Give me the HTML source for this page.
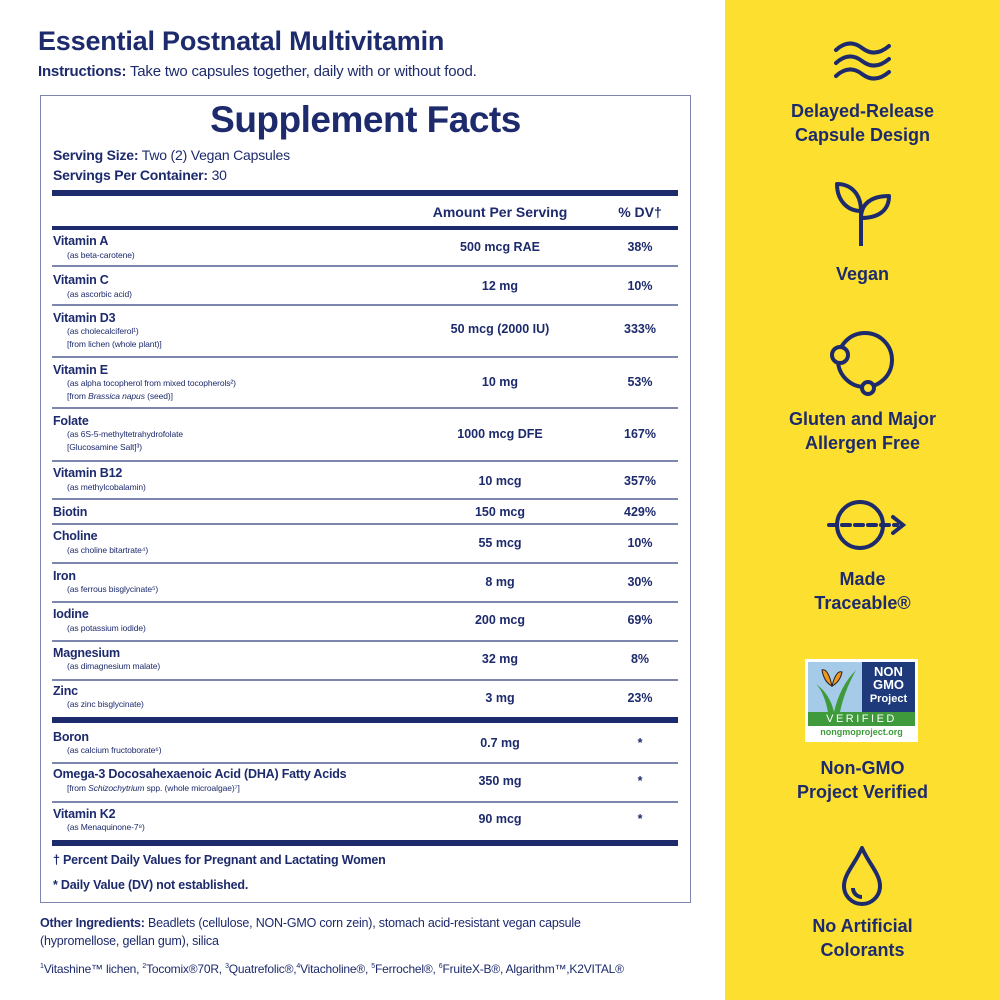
<!DOCTYPE html>
<html><head><meta charset="utf-8"><style>
*{margin:0;padding:0;box-sizing:border-box}
body{width:1000px;height:1000px;background:#fff;position:relative;overflow:hidden;font-family:"Liberation Sans",sans-serif;color:#1d2a6c}
.a{position:absolute;white-space:nowrap}
.n{font-size:12.5px;font-weight:bold;left:53px;letter-spacing:-0.2px}
.s{font-size:8.5px;left:67px;letter-spacing:-0.1px}
.v{font-size:12.5px;font-weight:bold;width:200px;left:400px;text-align:center}
.d{font-size:12.5px;font-weight:bold;width:80px;left:600px;text-align:center}
.ln{position:absolute;left:52px;width:626px;height:1.5px;background:#7d86ad}
.tk{position:absolute;left:52px;width:626px;background:#1d2a6c}
#panel{position:absolute;left:725px;top:0;width:275px;height:1000px;background:#fde02f}
.lab{position:absolute;left:0;width:275px;text-align:center;font-size:18px;font-weight:bold;line-height:24px}
.ic{position:absolute;left:102px;width:70px;height:70px}
</style></head><body>
<div class="a" style="left:38px;top:26px;font-size:27px;font-weight:bold;letter-spacing:-0.2px">Essential Postnatal Multivitamin</div>
<div class="a" style="left:38px;top:63px;font-size:15px;letter-spacing:-0.2px"><b>Instructions:</b> Take two capsules together, daily with or without food.</div>
<div style="position:absolute;left:40px;top:95px;width:651px;height:808px;border:1.5px solid #7d86ad"></div>
<div class="a" style="left:40px;width:651px;text-align:center;top:99px;font-size:37px;font-weight:bold;letter-spacing:-0.5px">Supplement Facts</div>
<div class="a" style="left:53px;top:147px;font-size:14px;letter-spacing:-0.2px"><b>Serving Size:</b> Two (2) Vegan Capsules</div>
<div class="a" style="left:53px;top:167px;font-size:14px;letter-spacing:-0.2px"><b>Servings Per Container:</b> 30</div>
<div class="tk" style="top:190px;height:6px"></div>
<div class="a" style="left:400px;width:200px;text-align:center;top:204px;font-size:14px;font-weight:bold">Amount Per Serving</div>
<div class="a" style="left:600px;width:80px;text-align:center;top:204px;font-size:14px;font-weight:bold">% DV†</div>
<div class="tk" style="top:226px;height:4px"></div>

<div>
<div class="a n" style="top:234px">Vitamin A</div><div class="a s" style="top:250px">(as beta-carotene)</div>
<div class="a v" style="top:240px">500 mcg RAE</div><div class="a d" style="top:240px">38%</div></div>
<div class="ln" style="top:265px"></div>
<div>
<div class="a n" style="top:273px">Vitamin C</div><div class="a s" style="top:289px">(as ascorbic acid)</div>
<div class="a v" style="top:279px">12 mg</div><div class="a d" style="top:279px">10%</div></div>
<div class="ln" style="top:304px"></div>
<div>
<div class="a n" style="top:311px">Vitamin D3</div><div class="a s" style="top:326px">(as cholecalciferol¹)</div><div class="a s" style="top:339px">[from lichen (whole plant)]</div>
<div class="a v" style="top:322px">50 mcg (2000 IU)</div><div class="a d" style="top:322px">333%</div></div>
<div class="ln" style="top:356px"></div>
<div>
<div class="a n" style="top:363px">Vitamin E</div><div class="a s" style="top:378px">(as alpha tocopherol from mixed tocopherols²)</div><div class="a s" style="top:391px">[from <i>Brassica napus</i> (seed)]</div>
<div class="a v" style="top:375px">10 mg</div><div class="a d" style="top:375px">53%</div></div>
<div class="ln" style="top:407px"></div>
<div>
<div class="a n" style="top:414px">Folate</div><div class="a s" style="top:429px">(as 6S-5-methyltetrahydrofolate</div><div class="a s" style="top:442px">[Glucosamine Salt]³)</div>
<div class="a v" style="top:427px">1000 mcg DFE</div><div class="a d" style="top:427px">167%</div></div>
<div class="ln" style="top:460px"></div>
<div>
<div class="a n" style="top:466px">Vitamin B12</div><div class="a s" style="top:482px">(as methylcobalamin)</div>
<div class="a v" style="top:474px">10 mcg</div><div class="a d" style="top:474px">357%</div></div>
<div class="ln" style="top:498px"></div>
<div>
<div class="a n" style="top:505px">Biotin</div>
<div class="a v" style="top:505px">150 mcg</div><div class="a d" style="top:505px">429%</div></div>
<div class="ln" style="top:523px"></div>
<div>
<div class="a n" style="top:529px">Choline</div><div class="a s" style="top:545px">(as choline bitartrate⁴)</div>
<div class="a v" style="top:536px">55 mcg</div><div class="a d" style="top:536px">10%</div></div>
<div class="ln" style="top:562px"></div>
<div>
<div class="a n" style="top:569px">Iron</div><div class="a s" style="top:584px">(as ferrous bisglycinate⁵)</div>
<div class="a v" style="top:575px">8 mg</div><div class="a d" style="top:575px">30%</div></div>
<div class="ln" style="top:601px"></div>
<div>
<div class="a n" style="top:607px">Iodine</div><div class="a s" style="top:623px">(as potassium iodide)</div>
<div class="a v" style="top:613px">200 mcg</div><div class="a d" style="top:613px">69%</div></div>
<div class="ln" style="top:640px"></div>
<div>
<div class="a n" style="top:646px">Magnesium</div><div class="a s" style="top:661px">(as dimagnesium malate)</div>
<div class="a v" style="top:652px">32 mg</div><div class="a d" style="top:652px">8%</div></div>
<div class="ln" style="top:679px"></div>
<div>
<div class="a n" style="top:684px">Zinc</div><div class="a s" style="top:699px">(as zinc bisglycinate)</div>
<div class="a v" style="top:691px">3 mg</div><div class="a d" style="top:691px">23%</div></div>
<div class="tk" style="top:717px;height:6px"></div>
<div>
<div class="a n" style="top:730px">Boron</div><div class="a s" style="top:745px">(as calcium fructoborate⁶)</div>
<div class="a v" style="top:736px">0.7 mg</div><div class="a d" style="top:736px">*</div></div>
<div class="ln" style="top:762px"></div>
<div>
<div class="a n" style="top:767px">Omega-3 Docosahexaenoic Acid (DHA) Fatty Acids</div><div class="a s" style="top:783px">[from <i>Schizochytrium</i> spp. (whole microalgae)⁷]</div>
<div class="a v" style="top:774px">350 mg</div><div class="a d" style="top:774px">*</div></div>
<div class="ln" style="top:801px"></div>
<div>
<div class="a n" style="top:807px">Vitamin K2</div><div class="a s" style="top:822px">(as Menaquinone-7⁸)</div>
<div class="a v" style="top:812px">90 mcg</div><div class="a d" style="top:812px">*</div></div>
<div class="tk" style="top:840px;height:6px"></div>
<div class="a" style="left:53px;top:853px;font-size:12.5px;font-weight:bold;letter-spacing:-0.2px">† Percent Daily Values for Pregnant and Lactating Women</div>
<div class="a" style="left:53px;top:878px;font-size:12.5px;font-weight:bold;letter-spacing:-0.2px">* Daily Value (DV) not established.</div>
<div class="a" style="left:40px;top:914px;font-size:12.5px;line-height:18px;letter-spacing:-0.2px"><b>Other Ingredients:</b> Beadlets (cellulose, NON-GMO corn zein), stomach acid-resistant vegan capsule<br>(hypromellose, gellan gum), silica</div>
<div class="a" style="left:40px;top:962px;font-size:12px;letter-spacing:-0.2px"><sup style="font-size:7px">1</sup>Vitashine™ lichen, <sup style="font-size:7px">2</sup>Tocomix®70R, <sup style="font-size:7px">3</sup>Quatrefolic®,<sup style="font-size:7px">4</sup>Vitacholine®, <sup style="font-size:7px">5</sup>Ferrochel®, <sup style="font-size:7px">6</sup>FruiteX-B®, Algarithm™,K2VITAL®</div>

<div id="panel">
<svg class="ic" style="top:26px" viewBox="0 0 70 70" fill="none" stroke="#1d2a6c" stroke-width="4" stroke-linecap="round"><path d="M9 24 Q22 12 35 22 T62 20"/><path d="M9 37 Q22 25 35 35 T62 33"/><path d="M9 50 Q22 38 35 48 T62 46"/></svg>
<div class="lab" style="top:99px">Delayed-Release<br>Capsule Design</div>
<svg class="ic" style="top:178px" viewBox="0 0 70 70" fill="none" stroke="#1d2a6c" stroke-width="4" stroke-linejoin="round"><path d="M34 68 V33"/><path d="M34 33 C20 33 10 22 10 6 C24 6 34 16 34 33 Z"/><path d="M34 40 C34 26 44 18 62 18 C62 32 52 40 34 40 Z"/></svg>
<div class="lab" style="top:262px">Vegan</div>
<svg class="ic" style="top:328px" viewBox="0 0 70 70" fill="none" stroke="#1d2a6c" stroke-width="4"><circle cx="38" cy="32" r="27"/><circle cx="13" cy="27" r="8" fill="#fde02f"/><circle cx="41" cy="60" r="6" fill="#fde02f"/></svg>
<div class="lab" style="top:407px">Gluten and Major<br>Allergen Free</div>
<svg class="ic" style="top:490px;left:100px;width:86px" viewBox="0 0 86 70" fill="none" stroke="#1d2a6c" stroke-width="4" stroke-linecap="round"><circle cx="35" cy="35" r="23"/><path d="M4 35 H72" stroke-dasharray="8 5"/><path d="M68 27 L78 35 L68 43"/></svg>
<div class="lab" style="top:567px">Made<br>Traceable®</div>
<div style="position:absolute;left:80px;top:659px;width:113px;height:83px;background:#fff;padding:2px">
<div style="position:absolute;left:3px;top:3px;width:54px;height:50px;background:#a6cbe8"></div>
<svg style="position:absolute;left:3px;top:3px" width="54" height="50" viewBox="0 0 54 50"><path d="M20 50 Q16 30 8 22 Q22 32 26 50 Z M26 50 Q32 24 48 8 Q36 30 32 50Z" fill="#3e9a3a"/><path d="M14 8 Q20 6 24 24 Q16 20 14 8Z M24 24 Q28 8 34 10 Q32 20 24 24Z" fill="#f2961e" stroke="#222" stroke-width="1"/></svg>
<div style="position:absolute;left:57px;top:3px;width:53px;height:50px;background:#1e3a7b;color:#fff;text-align:center;font-weight:bold;font-size:13px;line-height:13px;padding-top:3px">NON<br>GMO<br><span style="font-size:11px">Project</span></div>
<div style="position:absolute;left:3px;top:53px;width:107px;height:14px;background:#3e9a3a;color:#fff;text-align:center;font-size:11px;line-height:14px;letter-spacing:2.5px">VERIFIED</div>
<div style="position:absolute;left:0;top:68px;width:113px;text-align:center;color:#3e9a3a;font-size:9px;font-weight:bold">nongmoproject.org</div>
</div>
<div class="lab" style="top:756px">Non-GMO<br>Project Verified</div>
<svg class="ic" style="top:842px" viewBox="0 0 70 70" fill="none" stroke="#1d2a6c" stroke-width="4" stroke-linejoin="round"><path d="M35 6 C28 22 17 32 17 44 A18 18 0 0 0 53 44 C53 32 42 22 35 6 Z"/><path d="M26 46 A9 9 0 0 0 35 55"/></svg>
<div class="lab" style="top:914px">No Artificial<br>Colorants</div>
</div>
</body></html>
